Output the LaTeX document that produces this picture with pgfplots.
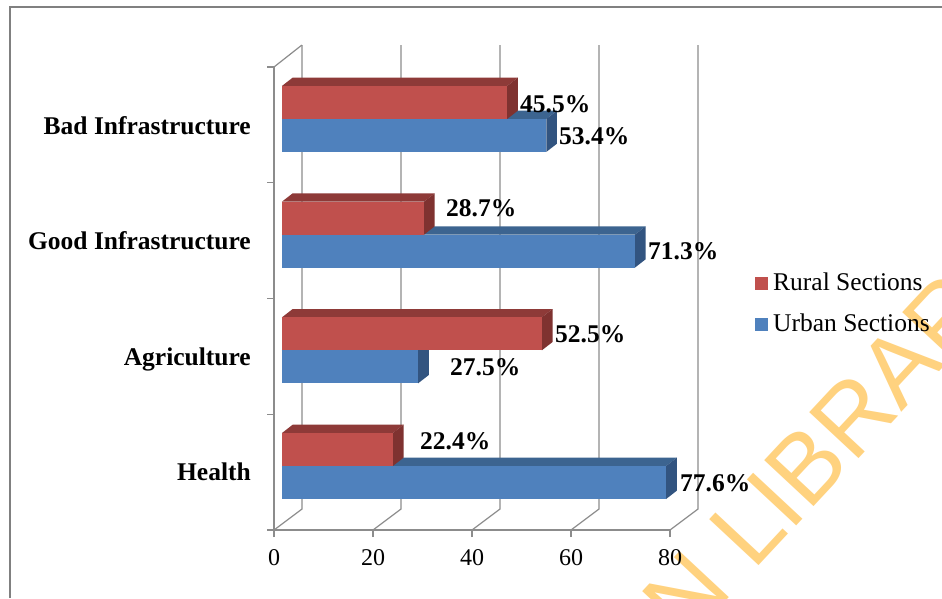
\documentclass[border=0pt]{standalone}
\usepackage{pgfplots}
\pgfplotsset{compat=1.18}
\usepackage{fontspec}
\setmainfont{Liberation Serif}
\newfontfamily\wmfont{Liberation Sans}
\definecolor{rur}{HTML}{C0504D}
\definecolor{rurtop}{HTML}{8E3A38}
\definecolor{rurside}{HTML}{7F3230}
\definecolor{urb}{HTML}{4F81BD}
\definecolor{urbtop}{HTML}{3C6490}
\definecolor{urbside}{HTML}{325480}
\definecolor{axgray}{HTML}{8C8C8C}
\definecolor{wm}{HTML}{FFD27F}
% depth faces of one bar: {value}{top y}{bottom y}{top colour}{side colour}
\newcommand{\barfaces}[5]{%
  \pgfmathsetmacro{\vx}{#1+2.155}%
  \pgfmathsetmacro{\yta}{#2+0.0717}%
  \pgfmathsetmacro{\yba}{#3+0.0717}%
  \addplot[fill=#4,draw=none,forget plot] coordinates {(0,#2) (#1,#2) (\vx,\yta) (2.155,\yta)};
  \addplot[fill=#5,draw=none,forget plot] coordinates {(#1,#2) (\vx,\yta) (\vx,\yba) (#1,#3)};
}
\newcommand{\wall}[1]{%
  \pgfmathsetmacro{\xf}{#1-1.611}%
  \pgfmathsetmacro{\xb}{#1+4.03}%
  \addplot[axgray,line width=1.2pt,forget plot] coordinates {(\xf,-0.553) (\xb,-0.372) (\xb,3.639)};
}
\newcommand{\lab}[3]{\node[anchor=base west,font=\fontsize{25.5}{25.5}\selectfont\bfseries,inner sep=0pt] at (#1pt,{(598-#2-2)*1pt}) {#3};}
\begin{document}
\begin{tikzpicture}
\useasboundingbox (0pt,0pt) rectangle (942pt,598pt);
\fill[white] (0pt,0pt) rectangle (942pt,598pt);
\draw[color=black!50,line width=1.8pt] (10pt,0pt) -- (10pt,591pt) -- (942pt,591pt);
\begin{axis}[
  at={(274pt,68pt)},anchor=south west,
  scale only axis,width=396pt,height=463pt,
  xmin=-1.611,xmax=78.389,ymin=-0.553,ymax=3.449,
  clip=false,
  axis x line*=bottom,axis y line*=left,
  axis line style={axgray,line width=1.2pt},
  every outer y axis line/.append style={axgray,line width=1.2pt},
  tick style={axgray,line width=1.2pt},
  tick align=outside,major tick length=7pt,
  xtick={-1.611,18.389,38.389,58.389,78.389},
  xticklabels={0,20,40,60,80},
  xticklabel style={font=\fontsize{24}{24}\selectfont,yshift=-9pt},
  ytick={-0.553,0.448,1.448,2.448,3.449},
  yticklabels={},
  extra y ticks={-0.035,0.956,1.956,2.948},
  extra y tick labels={Health,Agriculture,Good Infrastructure,Bad Infrastructure},
  extra y tick style={major tick length=0pt},
  yticklabel style={font=\fontsize{25.5}{25.5}\selectfont\bfseries,anchor=base east,xshift=-23pt,yshift=-10pt,inner sep=0pt},
  legend cell align=left,
  reverse legend,
  legend style={at={(1.2146,0.421)},anchor=south west,draw=none,fill=none,
    font=\fontsize{25.5}{25.5}\selectfont,row sep=18pt,inner sep=0pt},
  legend image code/.code={\fill[#1] (0pt,-7.5pt) rectangle (13pt,5pt);\path (16pt,0pt);},
]
\wall{0}\wall{20}\wall{40}\wall{60}\wall{80}
\addplot[axgray,line width=1.2pt,forget plot] coordinates {(-1.611,3.449) (4.03,3.639)};
% Health
\barfaces{77.6}{0}{-0.2852}{urbtop}{urbside}
\addplot[xbar,bar width=33pt,bar shift=-16.5pt,fill=urb,draw=none,forget plot] coordinates {(77.6,0)};
\barfaces{22.4}{0.2852}{0}{rurtop}{rurside}
\addplot[xbar,bar width=33pt,bar shift=16.5pt,fill=rur,draw=none,forget plot] coordinates {(22.4,0)};
% Agriculture
\barfaces{27.5}{1}{0.7148}{urbtop}{urbside}
\addplot[xbar,bar width=33pt,bar shift=-16.5pt,fill=urb,draw=none,forget plot] coordinates {(27.5,1)};
\barfaces{52.5}{1.2852}{1}{rurtop}{rurside}
\addplot[xbar,bar width=33pt,bar shift=16.5pt,fill=rur,draw=none,forget plot] coordinates {(52.5,1)};
% Good Infrastructure
\barfaces{71.3}{2}{1.7148}{urbtop}{urbside}
\addplot[xbar,bar width=33pt,bar shift=-16.5pt,fill=urb,draw=none,forget plot] coordinates {(71.3,2)};
\barfaces{28.7}{2.2852}{2}{rurtop}{rurside}
\addplot[xbar,bar width=33pt,bar shift=16.5pt,fill=rur,draw=none,forget plot] coordinates {(28.7,2)};
% Bad Infrastructure
\barfaces{53.4}{3}{2.7148}{urbtop}{urbside}
\addplot[xbar,bar width=33pt,bar shift=-16.5pt,fill=urb,draw=none] coordinates {(53.4,3)};
\addlegendentry{Urban Sections}
\barfaces{45.5}{3.2852}{3}{rurtop}{rurside}
\addplot[xbar,bar width=33pt,bar shift=16.5pt,fill=rur,draw=none] coordinates {(45.5,3)};
\addlegendentry{Rural Sections}
\end{axis}
\lab{520}{111}{45.5\%}
\lab{559}{143}{53.4\%}
\lab{446}{214.5}{28.7\%}
\lab{648}{258}{71.3\%}
\lab{555}{340}{52.5\%}
\lab{450}{373}{27.5\%}
\lab{420}{447}{22.4\%}
\lab{680}{489}{77.6\%}
\begin{scope}[blend mode=multiply]
\clip (0pt,0pt) rectangle (942pt,598pt);
\node[anchor=base west,inner sep=0pt,rotate=47,text=wm,font=\fontsize{98}{98}\selectfont\wmfont] at (753pt,26pt) {LIBRARY};
\node[anchor=base east,inner sep=0pt,rotate=47,text=wm,font=\fontsize{98}{98}\selectfont\wmfont] at (735pt,6pt) {IBADAN};
\end{scope}
\end{tikzpicture}
\end{document}
